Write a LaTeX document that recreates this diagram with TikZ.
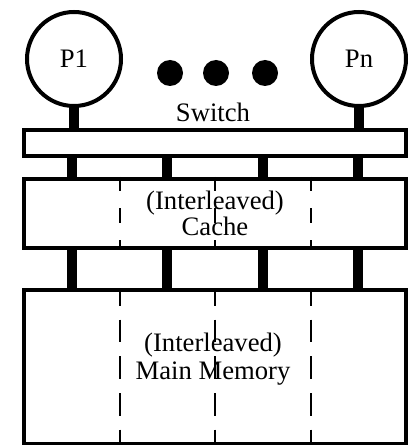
\documentclass[tikz,border=0pt]{standalone}
\usepackage{fontspec}
\setmainfont{Liberation Serif}
\usetikzlibrary{positioning}
\tikzstyle{boxline}=[draw=black,line width=3pt]
\tikzstyle{busline}=[draw=black,line width=7.5pt]
\tikzstyle{bankline}=[draw=black,line width=1.5pt,dash pattern=on 17pt off 10.5pt,dash phase=3.75pt]
\tikzstyle{tag}=[font=\fontsize{20}{20}\selectfont,align=center,inner sep=0pt]
\tikzstyle{proc}=[circle,boxline,tag,minimum size=70.5pt]
\tikzstyle{unit}=[rectangle,boxline,tag,minimum width=286pt]

\begin{document}
\begin{tikzpicture}[x=0.75pt,y=-0.75pt]
    \useasboundingbox (0,0) rectangle (414,445);

    \node[proc] (p1) at (74,59) {P1};
    \node[proc] (pn) at (359,59) {Pn};
    \fill (170,73) circle (9.75pt);
    \fill (216,73) circle (9.75pt);
    \fill (265,73) circle (9.75pt);

    \node[unit,minimum height=19.5pt] (switch) at (215,143) {};
    \node[tag] (switchtag) at (213,112) {Switch};
    \node[unit,minimum height=51.75pt] (cache) at (215,213.5) {(Interleaved)\\Cache};
    \node[unit,minimum height=115.5pt] (mem) at (215,367) {};
    \node[tag,font=\fontsize{20}{21}\selectfont] (memtag) at (213,359) {(Interleaved)\\Main Memory};

    % processors onto the switch
    \draw[busline] (p1) -- (p1 |- switch.north);
    \draw[busline] (pn) -- (pn |- switch.north);
    % buses
    \foreach \x in {72,167,263,358} {
        \draw[busline] (switch.south -| \x,0) -- (cache.north -| \x,0);
        \draw[busline] (cache.south -| \x,0) -- (mem.north -| \x,0);
    }
    % banks
    \foreach \x in {120,215,311} {
        \draw[bankline,dash pattern=on 11.25pt off 12.75pt,dash phase=0.75pt] (cache.north -| \x,0) -- (cache.south -| \x,0);
        \draw[bankline] (mem.north -| \x,0) -- (mem.south -| \x,0);
    }
\end{tikzpicture}
\end{document}
